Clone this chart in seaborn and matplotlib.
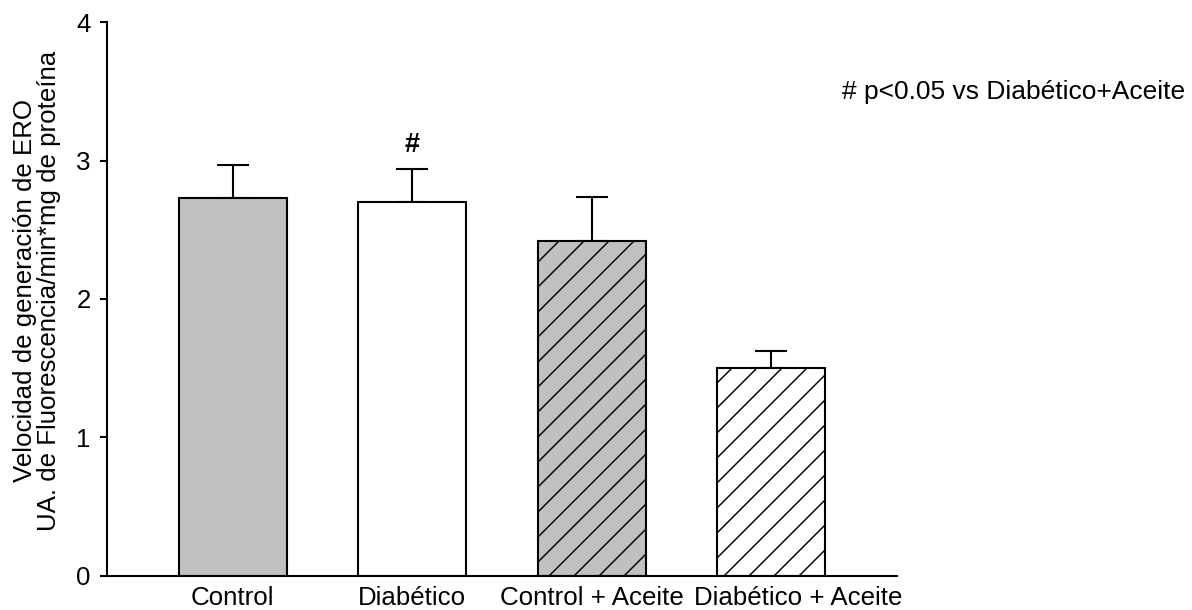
import matplotlib
matplotlib.use("Agg")
import matplotlib.pyplot as plt
import matplotlib.transforms as mtransforms
import seaborn as sns
import pandas as pd

# ROS generation rate per group (mean and SEM)
groups = ["Control", "Diabético", "Control + Aceite", "Diabético + Aceite"]
means = [2.73, 2.70, 2.42, 1.50]
sems = [0.24, 0.24, 0.32, 0.125]
fills = ["#c0c0c0", "#ffffff", "#c0c0c0", "#ffffff"]
hatches = ["", "", "//", "//"]
yticks = [0, 1, 2, 3, 4]
ylabel = "Velocidad de generación de ERO\nUA. de Fluorescencia/min*mg de proteína"
note = "# p<0.05 vs Diabético+Aceite"
marked_group = "Diabético"

sns.set_theme(style="white")
plt.rcParams["font.family"] = ["Liberation Sans", "DejaVu Sans"]
plt.rcParams["hatch.linewidth"] = 0.7
plt.rcParams["hatch.color"] = "black"

DPI = 150
FS = 12.4
fig = plt.figure(figsize=(1192 / DPI, 610 / DPI), dpi=DPI)
ax = fig.add_axes([0.0898, 0.0564, 0.7525 - 0.0898, 0.9633 - 0.0564])

df = pd.DataFrame({"group": groups, "mean": means})
sns.barplot(data=df, x="group", y="mean", hue="group", palette=fills,
            order=groups, hue_order=groups, width=0.6, dodge=False,
            edgecolor="black", linewidth=1.0, legend=False, ax=ax,
            errorbar=None, saturation=1)

for patch, h in zip(ax.patches, hatches):
    patch.set_hatch(h)
    patch.set_edgecolor("black")

# upward-only error bars
ax.errorbar(range(len(groups)), means, yerr=[[0] * len(groups), sems],
            fmt="none", ecolor="black", elinewidth=1.0, capsize=7.5,
            capthick=1.0, zorder=0)

# significance mark above the error bar
i = groups.index(marked_group)
ax.text(i, means[i] + sems[i] + 0.175, "#", ha="center", va="center",
        fontsize=13, fontweight="bold", color="black")

ax.set_xlim(-0.7, 3.7)
ax.set_ylim(0, 4)
ax.set_yticks(yticks)
ax.set_yticklabels([str(t) for t in yticks])
ax.set_xlabel("")
ax.set_ylabel(ylabel, fontsize=FS, linespacing=1.0, color="black")
ax.yaxis.set_label_coords(-0.058, 0.515)

for s in ["top", "right"]:
    ax.spines[s].set_visible(False)
for s in ["left", "bottom"]:
    ax.spines[s].set_color("black")
    ax.spines[s].set_linewidth(1.0)

ax.tick_params(axis="y", which="both", left=True, length=3.4, width=1.0,
               color="black", pad=4.5, labelsize=FS, labelcolor="black")
ax.tick_params(axis="x", which="both", bottom=False, length=0, pad=5.0,
               labelsize=FS, labelcolor="black")

# nudge the last category label right so it clears its neighbour
last = ax.get_xticklabels()[-1]
shift = mtransforms.ScaledTranslation(27 / DPI, 0, fig.dpi_scale_trans)
last.set_transform(last.get_transform() + shift)

fig.text(842 / 1192, 1 - 92 / 610, note, ha="left", va="center",
         fontsize=12.7, color="black")

fig.savefig("out.png", dpi=DPI, facecolor="white")
